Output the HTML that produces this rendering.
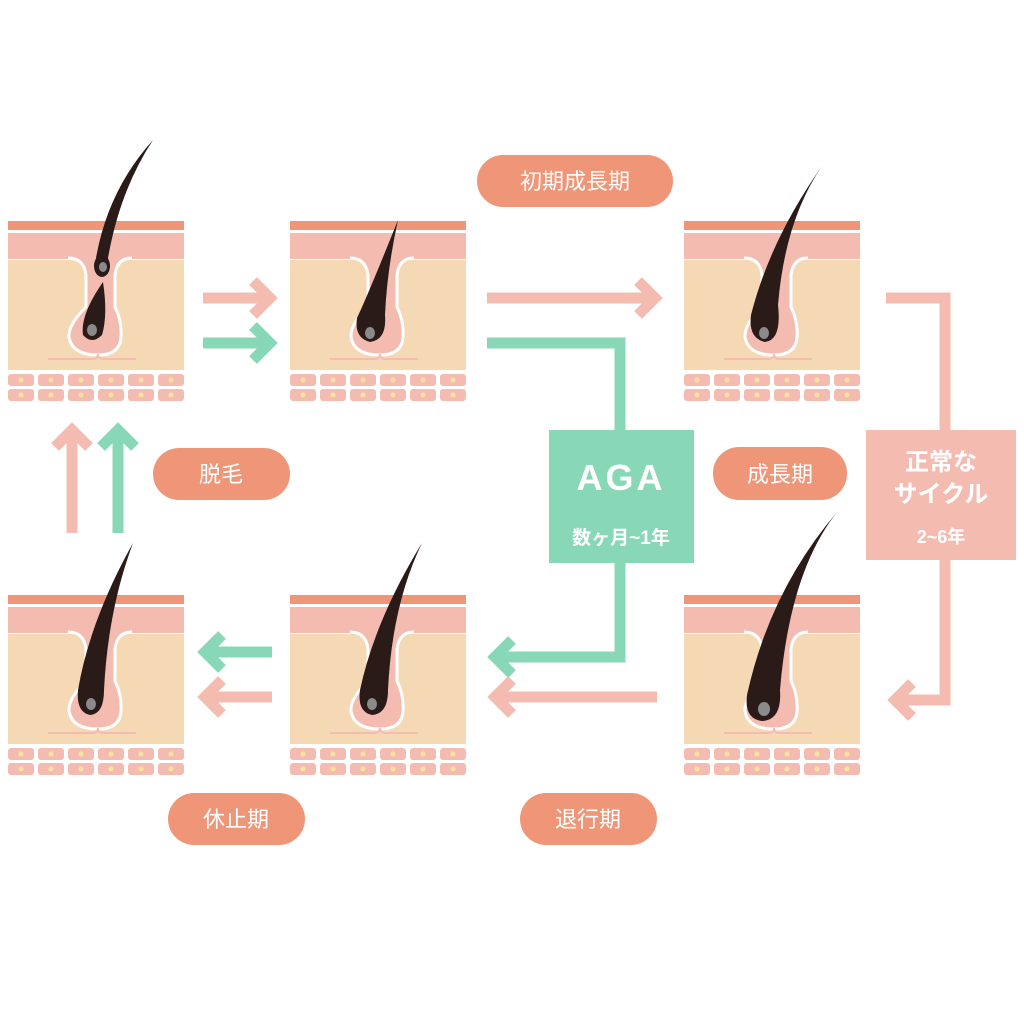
<!DOCTYPE html>
<html><head><meta charset="utf-8"><style>
body{margin:0;background:#fff}
svg{display:block}
text{font-family:"Liberation Sans","Noto Sans CJK JP",sans-serif;font-weight:bold;fill:#fff}
</style></head><body>
<svg width="1024" height="1024" viewBox="0 0 1024 1024" xmlns="http://www.w3.org/2000/svg">
<defs>
<g id="base">
  <rect x="0" y="0" width="176" height="9" fill="#ef9678"/>
  <rect x="0" y="12" width="176" height="26" fill="#f4bcb0"/>
  <rect x="0" y="39" width="176" height="110" fill="#f5d9b5"/>
  <path d="M60 37 Q76 37 78 54 L78 86 Q60 104 61 116 Q64 134 90 134 Q112 134 113 116 Q114 100 107 86 L107 54 Q109 37 124 37" fill="#f4bcb0" stroke="#fff" stroke-width="3"/>
  <path d="M40 138 L84 138 Q90 138 90 133 Q90 138 96 138 L128 138" fill="none" stroke="#f4bcb0" stroke-width="2"/>
  <g fill="#f4bcb0">
    <rect x="0" y="153" width="26" height="12" rx="3"/><rect x="30" y="153" width="26" height="12" rx="3"/><rect x="60" y="153" width="26" height="12" rx="3"/><rect x="90" y="153" width="26" height="12" rx="3"/><rect x="120" y="153" width="26" height="12" rx="3"/><rect x="150" y="153" width="26" height="12" rx="3"/>
    <rect x="0" y="168" width="26" height="12" rx="3"/><rect x="30" y="168" width="26" height="12" rx="3"/><rect x="60" y="168" width="26" height="12" rx="3"/><rect x="90" y="168" width="26" height="12" rx="3"/><rect x="120" y="168" width="26" height="12" rx="3"/><rect x="150" y="168" width="26" height="12" rx="3"/>
  </g>
  <g fill="#f7e3a0">
    <circle cx="13" cy="159" r="2.5"/><circle cx="43" cy="159" r="2.5"/><circle cx="73" cy="159" r="2.5"/><circle cx="103" cy="159" r="2.5"/><circle cx="133" cy="159" r="2.5"/><circle cx="163" cy="159" r="2.5"/>
    <circle cx="13" cy="174" r="2.5"/><circle cx="43" cy="174" r="2.5"/><circle cx="73" cy="174" r="2.5"/><circle cx="103" cy="174" r="2.5"/><circle cx="133" cy="174" r="2.5"/><circle cx="163" cy="174" r="2.5"/>
  </g>
</g>
</defs>

<use href="#base" x="8" y="221"/>
<use href="#base" x="290" y="221"/>
<use href="#base" x="684" y="221"/>
<use href="#base" x="8" y="595"/>
<use href="#base" x="290" y="595"/>
<use href="#base" x="684" y="595"/>

<g fill="#2a1a18">
  <path d="M153 140 Q120 190 108 258 Q112 270 104 276 Q94 272 96 258 Q108 190 153 140Z"/>
  <ellipse cx="102" cy="266" rx="8" ry="11"/>
  <path d="M103 282 Q108 315 102 335 Q92 345 83 335 Q80 315 103 282Z"/>
  <path d="M398 220 Q387 270 385 315 Q387 340 370 342 Q354 338 357 318 Q370 290 398 220Z"/>
  <path d="M822 166 Q785 220 778 305 Q782 340 765 342 Q748 338 751 315 Q770 240 822 166Z"/>
  <path d="M133 543 Q108 610 104 690 Q104 714 90 715 Q76 712 78 690 Q90 620 133 543Z"/>
  <path d="M422 543 Q392 605 388 690 Q388 714 372 715 Q357 712 360 690 Q375 620 422 543Z"/>
  <path d="M838 511 Q790 570 780 690 Q782 720 762 721 Q744 719 747 695 Q770 590 838 511Z"/>
</g>
<g fill="#8a8a8a">
  <ellipse cx="103" cy="267" rx="4" ry="5"/>
  <ellipse cx="92" cy="330" rx="5" ry="6"/>
  <ellipse cx="370" cy="333" rx="5" ry="6"/>
  <ellipse cx="764" cy="333" rx="5" ry="6"/>
  <ellipse cx="91" cy="704" rx="5" ry="6"/>
  <ellipse cx="372" cy="704" rx="5" ry="6"/>
  <ellipse cx="764" cy="709" rx="6" ry="7"/>
</g>

<g fill="none" stroke-width="11" stroke-linejoin="miter">
  <g stroke="#f4bcb0">
    <path d="M203 298 L265 298"/><path d="M253 281 L270 298 L253 315"/>
    <path d="M487 298 L650 298"/><path d="M638 281 L655 298 L638 315"/>
    <path d="M886 298 L945 298 L945 700 L900 700"/><path d="M912 683 L895 700 L912 717"/>
    <path d="M657 697 L500 697"/><path d="M512 680 L495 697 L512 714"/>
    <path d="M272 697 L210 697"/><path d="M222 680 L205 697 L222 714"/>
    <path d="M72 533 L72 435"/><path d="M55 447 L72 430 L89 447"/>
  </g>
  <g stroke="#88d8b8">
    <path d="M203 343 L265 343"/><path d="M253 326 L270 343 L253 360"/>
    <path d="M487 343 L620 343 L620 657 L500 657"/><path d="M512 640 L495 657 L512 674"/>
    <path d="M272 652 L210 652"/><path d="M222 635 L205 652 L222 669"/>
    <path d="M118 533 L118 435"/><path d="M101 447 L118 430 L135 447"/>
  </g>
</g>

<rect x="549" y="430" width="145" height="133" fill="#88d8b8"/>
<text x="621" y="490" font-size="36" text-anchor="middle" letter-spacing="3">AGA</text>
<text x="621" y="544" font-size="19" text-anchor="middle">数ヶ月~1年</text>
<rect x="866" y="430" width="150" height="130" fill="#f4bcb0"/>
<text x="941" y="470" font-size="24" text-anchor="middle">正常な</text>
<text x="941" y="502" font-size="24" text-anchor="middle">サイクル</text>
<text x="941" y="543" font-size="18" text-anchor="middle">2~6年</text>

<g fill="#ef9678">
  <rect x="477" y="155" width="196" height="52" rx="26"/>
  <rect x="713" y="447" width="134" height="53" rx="26"/>
  <rect x="153" y="448" width="137" height="52" rx="26"/>
  <rect x="168" y="793" width="137" height="52" rx="26"/>
  <rect x="520" y="793" width="137" height="52" rx="26"/>
</g>
<g font-size="22" text-anchor="middle">
  <text x="575" y="189" style="font-weight:normal">初期成長期</text>
  <text x="780" y="482" style="font-weight:normal">成長期</text>
  <text x="221" y="482" style="font-weight:normal">脱毛</text>
  <text x="236" y="827" style="font-weight:normal">休止期</text>
  <text x="588" y="827" style="font-weight:normal">退行期</text>
</g>
</svg>
</body></html>
